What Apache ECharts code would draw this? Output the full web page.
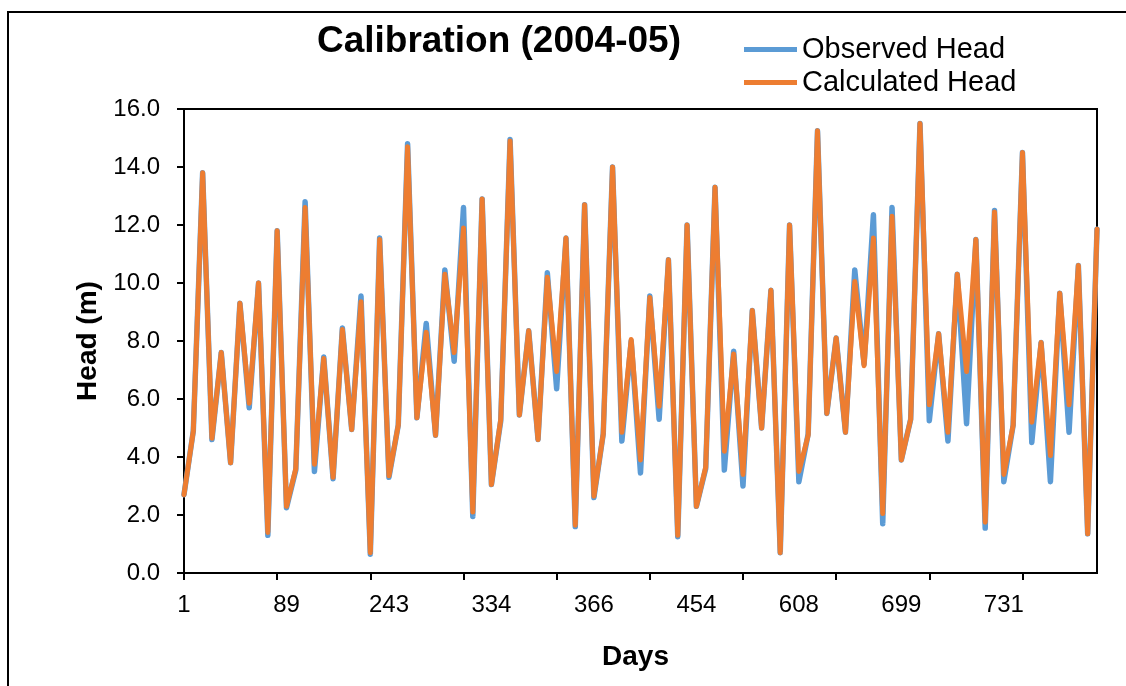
<!DOCTYPE html>
<html>
<head>
<meta charset="utf-8">
<script src="https://cdn.jsdelivr.net/npm/echarts@6/dist/echarts.min.js"></script>
<style>
  html, body { margin: 0; padding: 0; background: #fff; }
  #chart { width: 1126px; height: 686px; }
</style>
</head>
<body>
<div id="chart"></div>
<script>
// Day labels shown on the x axis (one every 11 samples)
const dayLabels = ['1', '89', '243', '334', '366', '454', '608', '699', '731'];
const labelStep = 11;

// Groundwater head (m) per sample
const observedHead = [
  2.7, 4.9, 13.8, 4.6, 7.6, 3.8, 9.3, 5.7, 10.0, 1.3,
  11.8, 2.25, 3.55, 12.8, 3.5, 7.45, 3.25, 8.45, 4.95, 9.55,
  0.65, 11.55, 3.3, 5.1, 14.8, 5.35, 8.6, 4.75, 10.45, 7.3,
  12.6, 1.95, 12.9, 3.05, 5.25, 14.95, 5.45, 8.35, 4.6, 10.35,
  6.35, 11.55, 1.6, 12.7, 2.6, 4.8, 14.0, 4.55, 8.0, 3.45,
  9.55, 5.3, 10.8, 1.25, 12.0, 2.3, 3.6, 13.3, 3.55, 7.65,
  3.0, 9.05, 5.0, 9.75, 0.7, 12.0, 3.15, 4.8, 15.25, 5.5,
  8.1, 4.85, 10.45, 7.2, 12.35, 1.7, 12.6, 3.9, 5.3, 15.5,
  5.25, 8.25, 4.55, 10.3, 5.15, 11.5, 1.55, 12.5, 3.15, 5.1,
  14.5, 4.5, 7.95, 3.15, 9.65, 4.85, 10.6, 1.35, 11.85
];
const calculatedHead = [
  2.7, 4.9, 13.8, 4.65, 7.6, 3.8, 9.3, 5.85, 10.0, 1.4,
  11.8, 2.3, 3.6, 12.6, 3.75, 7.4, 3.3, 8.4, 4.95, 9.35,
  0.7, 11.5, 3.35, 5.1, 14.7, 5.35, 8.3, 4.75, 10.3, 7.6,
  11.9, 2.1, 12.9, 3.05, 5.3, 14.9, 5.45, 8.35, 4.6, 10.2,
  6.95, 11.55, 1.65, 12.7, 2.65, 4.8, 14.0, 4.85, 8.05, 3.9,
  9.5, 5.75, 10.8, 1.3, 12.0, 2.3, 3.65, 13.3, 4.2, 7.55,
  3.4, 9.05, 5.0, 9.75, 0.7, 12.0, 3.5, 4.75, 15.25, 5.5,
  8.1, 4.85, 10.05, 7.15, 11.55, 2.05, 12.3, 3.9, 5.3, 15.5,
  5.8, 8.25, 4.85, 10.3, 6.95, 11.5, 1.75, 12.45, 3.4, 5.1,
  14.5, 5.2, 7.95, 4.05, 9.65, 5.8, 10.6, 1.35, 11.85
];

// Category slots, one per sample; every 11th carries a day label
const slots = observedHead.map((_, i) => String(i));

const FONT = '"Liberation Sans", Arial, sans-serif';

const chart = echarts.init(document.getElementById('chart'), null, { renderer: 'canvas' });
chart.setOption({
  animation: false,
  backgroundColor: '#fff',
  textStyle: { fontFamily: FONT, color: '#000' },
  graphic: [{
    type: 'rect',
    silent: true,
    shape: { x: 8, y: 12, width: 1300, height: 900 },
    style: { fill: 'none', stroke: '#000', lineWidth: 2 }
  }],
  title: {
    text: 'Calibration (2004-05)',
    left: 317,
    top: 23,
    padding: 0,
    textStyle: { fontFamily: FONT, fontSize: 37, fontWeight: 'bold', color: '#000' }
  },
  legend: {
    orient: 'vertical',
    left: 744,
    top: 35,
    padding: 0,
    itemGap: 4,
    itemWidth: 53,
    itemHeight: 5,
    icon: 'rect',
    textStyle: { fontFamily: FONT, fontSize: 29, lineHeight: 28, color: '#000' },
    data: ['Observed Head', 'Calculated Head']
  },
  grid: {
    left: 184,
    right: 29,
    top: 109,
    bottom: 113,
    show: true,
    borderColor: '#000',
    borderWidth: 2,
    containLabel: false
  },
  xAxis: {
    type: 'category',
    data: slots,
    boundaryGap: false,
    name: 'Days',
    nameLocation: 'middle',
    nameGap: 70,
    nameTextStyle: { fontFamily: FONT, fontSize: 28, fontWeight: 'bold', color: '#000', padding: [0, 10, 0, 0] },
    axisLine: { lineStyle: { color: '#000', width: 2 } },
    axisTick: { show: true, inside: false, length: 7, interval: 9, lineStyle: { color: '#000', width: 2 } },
    axisLabel: {
      interval: labelStep - 1,
      margin: 20,
      fontFamily: FONT,
      fontSize: 24,
      color: '#000',
      formatter: (v, i) => (i % labelStep === 0 ? (dayLabels[i / labelStep] || '') : '')
    },
    splitLine: { show: false }
  },
  yAxis: {
    type: 'value',
    min: 0,
    max: 16,
    interval: 2,
    name: 'Head (m)',
    nameLocation: 'middle',
    nameGap: 80,
    nameTextStyle: { fontFamily: FONT, fontSize: 28, fontWeight: 'bold', color: '#000' },
    axisLine: { show: true, lineStyle: { color: '#000', width: 2 } },
    axisTick: { show: true, inside: false, length: 7, lineStyle: { color: '#000', width: 2 } },
    axisLabel: {
      margin: 24,
      fontFamily: FONT,
      fontSize: 24,
      color: '#000',
      formatter: v => v.toFixed(1)
    },
    splitLine: { show: false }
  },
  series: [
    {
      name: 'Observed Head',
      type: 'line',
      data: observedHead,
      showSymbol: false,
      symbol: 'none',
      color: '#5B9BD5',
      lineStyle: { color: '#5B9BD5', width: 5.5, cap: 'round', join: 'round' },
      z: 2
    },
    {
      name: 'Calculated Head',
      type: 'line',
      data: calculatedHead,
      showSymbol: false,
      symbol: 'none',
      color: '#ED7D31',
      lineStyle: { color: '#ED7D31', width: 5, cap: 'round', join: 'round' },
      z: 3
    }
  ]
});
</script>
</body>
</html>
